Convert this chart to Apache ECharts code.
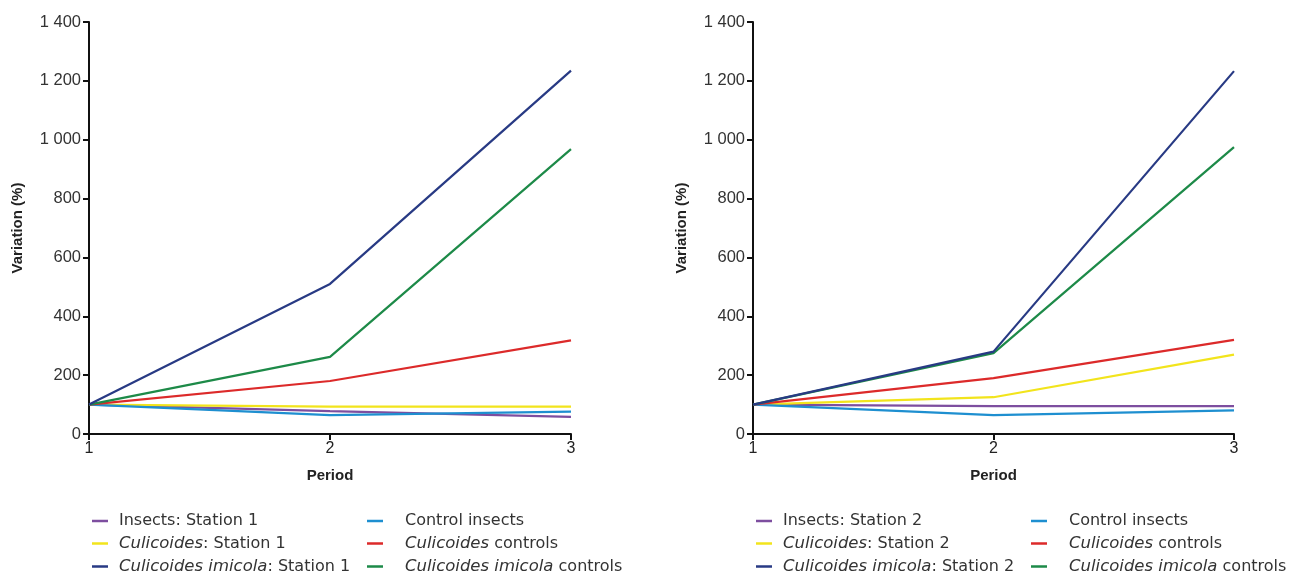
<!DOCTYPE html>
<html><head><meta charset="utf-8">
<script src="https://cdn.jsdelivr.net/npm/echarts@6/dist/echarts.min.js"></script>
<style>html,body{margin:0;padding:0;background:#fff}#c{width:1300px;height:572px}</style>
</head><body><div id="c"></div>
<script>
var periods = ['1', '2', '3'];
var yTicks = [0, 200, 400, 600, 800, 1000, 1200, 1400];

// Station 1 panel
var s1_insects = [100, 78, 58];
var s1_culicoides = [100, 93, 93];
var s1_imicola = [100, 510, 1235];
var s1_controlInsects = [100, 64, 76];
var s1_culicoidesControls = [100, 180, 318];
var s1_imicolaControls = [100, 262, 968];

// Station 2 panel
var s2_insects = [100, 95, 95];
var s2_culicoides = [100, 125, 270];
var s2_imicola = [100, 280, 1233];
var s2_controlInsects = [100, 64, 80];
var s2_culicoidesControls = [100, 190, 320];
var s2_imicolaControls = [100, 275, 975];

var colors = {
  insects: '#7d4e9f', culicoides: '#f2e41c', imicola: '#283a84',
  controlInsects: '#1e8fd0', culicoidesControls: '#dc2a2a', imicolaControls: '#1d8a48'
};

var names1 = ['Insects: Station 1', 'Culicoides: Station 1', 'Culicoides imicola: Station 1'];
var names2 = ['Insects: Station 2', 'Culicoides: Station 2', 'Culicoides imicola: Station 2'];
var namesCtl = ['Control insects', 'Culicoides controls', 'Culicoides imicola controls'];

function fmtNum(v) { return String(v).replace(/\B(?=(\d{3})+(?!\d))/g, ' '); }
function legendFmt(n) {
  var m = n.match(/^(Culicoides imicola|Culicoides)(.*)$/);
  if (m) return '{i|' + m[1] + '}{n|' + m[2] + '}';
  return '{n|' + n + '}';
}

var grids = [
  {left: 89, right: 729, top: 22, bottom: 138},
  {left: 753, right: 66, top: 22, bottom: 138}
];

function xAx(gi) {
  return {
    type: 'category', gridIndex: gi, data: periods, boundaryGap: false,
    name: 'Period', nameLocation: 'middle', nameGap: 34,
    nameTextStyle: {fontFamily: 'Liberation Sans', fontWeight: 'bold', fontSize: 15, color: '#222'},
    axisLine: {lineStyle: {color: '#111', width: 2}},
    axisTick: {show: true, alignWithLabel: true, length: 6, lineStyle: {color: '#111', width: 2}},
    axisLabel: {fontFamily: 'Liberation Sans', fontSize: 16, color: '#222', margin: 7},
    splitLine: {show: false}
  };
}
function yAx(gi) {
  return {
    type: 'value', gridIndex: gi, min: 0, max: 1400, interval: 200,
    name: 'Variation (%)', nameLocation: 'middle', nameGap: 64,
    nameTextStyle: {fontFamily: 'Liberation Sans', fontWeight: 'bold', fontSize: 15, color: '#222'},
    axisLine: {show: true, lineStyle: {color: '#111', width: 2}},
    axisTick: {show: true, length: 6, lineStyle: {color: '#111', width: 2}},
    axisLabel: {fontFamily: 'Liberation Sans', fontSize: 16.5, color: '#333', margin: 8,
      formatter: function (v) { return fmtNum(v); }},
    splitLine: {show: false}
  };
}
function ser(name, data, color, gi) {
  return {type: 'line', name: name, data: data, xAxisIndex: gi, yAxisIndex: gi,
    symbol: 'none', lineStyle: {color: color, width: 2.2}, itemStyle: {color: color},
    animation: false};
}

var series = [
  ser(names1[0], s1_insects, colors.insects, 0),
  ser(names1[1], s1_culicoides, colors.culicoides, 0),
  ser(namesCtl[0], s1_controlInsects, colors.controlInsects, 0),
  ser(namesCtl[1], s1_culicoidesControls, colors.culicoidesControls, 0),
  ser(namesCtl[2], s1_imicolaControls, colors.imicolaControls, 0),
  ser(names1[2], s1_imicola, colors.imicola, 0),
  ser(names2[0], s2_insects, colors.insects, 1),
  ser(names2[1], s2_culicoides, colors.culicoides, 1),
  ser(namesCtl[0], s2_controlInsects, colors.controlInsects, 1),
  ser(namesCtl[1], s2_culicoidesControls, colors.culicoidesControls, 1),
  ser(namesCtl[2], s2_imicolaControls, colors.imicolaControls, 1),
  ser(names2[2], s2_imicola, colors.imicola, 1)
];

function leg(data, left, padLeft) {
  return {
    data: data, left: left, top: 513, height: 120, orient: 'vertical', itemGap: 6,
    padding: 0,
    icon: 'rect', itemWidth: 16, itemHeight: 2.5, selectedMode: false,
    formatter: legendFmt,
    textStyle: {
      padding: [0, 0, 0, padLeft],
      rich: {
        i: {fontFamily: 'DejaVu Sans', fontSize: 16.5, lineHeight: 20, fontStyle: 'italic', color: '#333'},
        n: {fontFamily: 'DejaVu Sans', fontSize: 16, lineHeight: 20, color: '#333'}
      }
    }
  };
}

var chart = echarts.init(document.getElementById('c'), null, {renderer: 'canvas'});
chart.setOption({
  backgroundColor: '#fff',
  animation: false,
  grid: grids,
  xAxis: [xAx(0), xAx(1)],
  yAxis: [yAx(0), yAx(1)],
  legend: [
    leg(names1, 92, 6),
    leg(namesCtl, 367, 17),
    leg(names2, 756, 6),
    leg(namesCtl, 1031, 17)
  ],
  series: series
});
</script></body></html>
